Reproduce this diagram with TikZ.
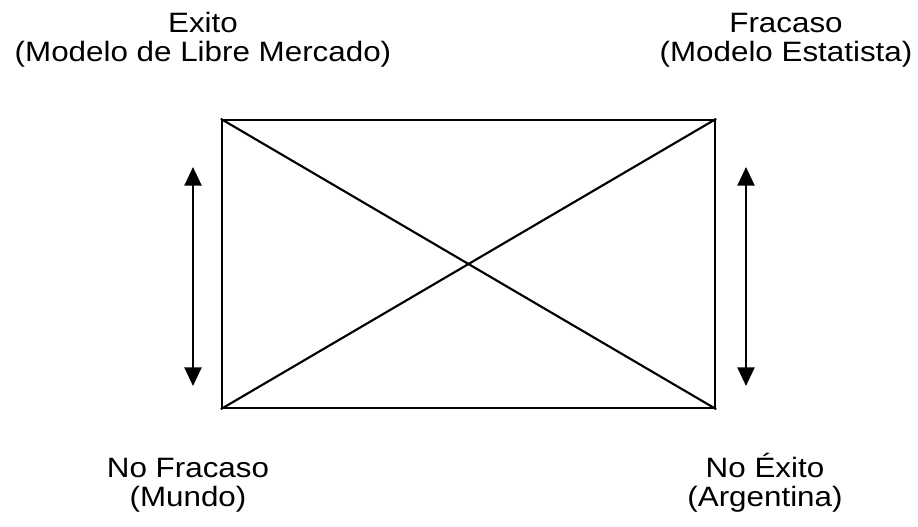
\documentclass[tikz,border=0pt]{standalone}
\usepackage{fontspec}
\setmainfont{Liberation Sans}[FakeStretch=1.12]
\usetikzlibrary{arrows.meta,positioning}
\tikzset{
  lbl/.style={font=\fontsize{21}{21.75}\selectfont,align=center,inner sep=0pt,anchor=base},
  cuadro/.style={draw,line width=1.7pt,minimum width=369.75pt,minimum height=216pt,inner sep=0pt},
  diag/.style={line width=1.6pt},
  arr/.style={{Triangle[width=12.75pt,length=14pt]}-{Triangle[width=12.75pt,length=14pt]},line width=1.8pt},
}

\begin{document}
\begin{tikzpicture}[x=0.75pt,y=-0.75pt]
  \useasboundingbox (0,0) rectangle (918,526);
  % cuadro y diagonales
  \node[cuadro] (cuadro) at (468.5,264) {};
  \draw[diag] (cuadro.north west) -- (cuadro.south east);
  \draw[diag] (cuadro.south west) -- (cuadro.north east);
  % flechas laterales
  \coordinate (izqA) at (193,167); \coordinate (izqB) at (193,386);
  \coordinate (derA) at (746,167); \coordinate (derB) at (746,386);
  \draw[arr] (izqA) -- (izqB);
  \draw[arr] (derA) -- (derB);
  % etiquetas
  \node[lbl] (exito) at (203,61.7) {Exito\\(Modelo de Libre Mercado)};
  \node[lbl] (fracaso) at (786,61.7) {Fracaso\\(Modelo Estatista)};
  \node[lbl] (nofracaso) at (188,506) {No Fracaso\\(Mundo)};
  \node[lbl] (noexito) at (765,506) {No Éxito\\(Argentina)};
\end{tikzpicture}
\end{document}
